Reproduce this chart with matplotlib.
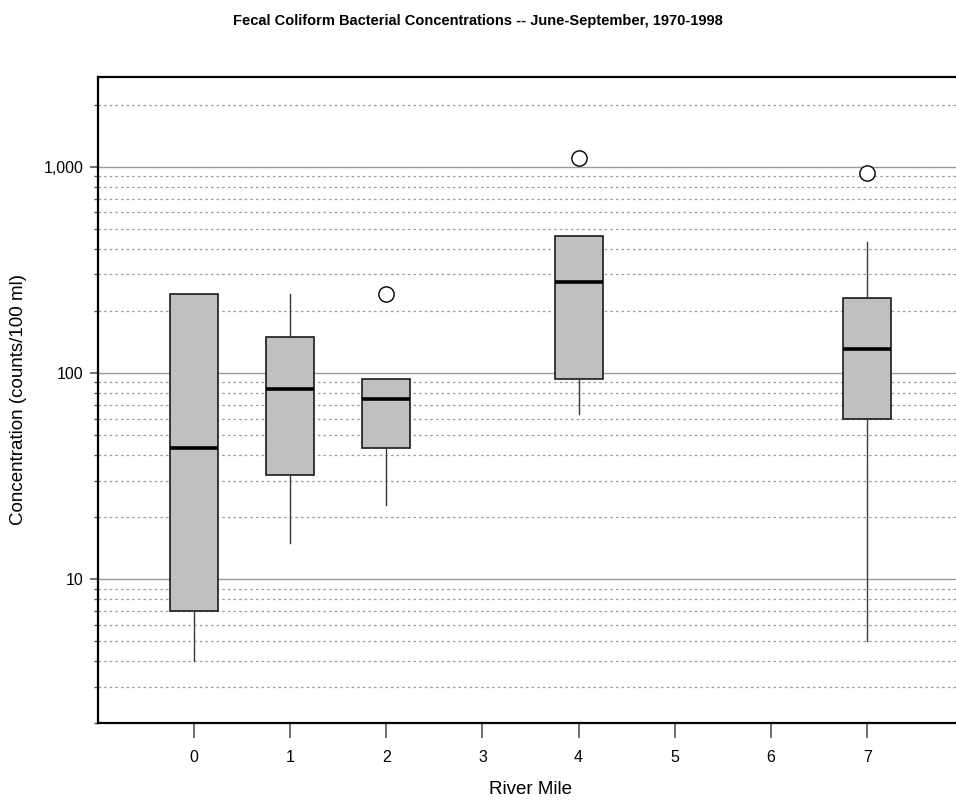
import matplotlib
matplotlib.use("Agg")
import matplotlib.pyplot as plt
from matplotlib.ticker import FixedLocator, NullFormatter, FuncFormatter
import numpy as np

plt.rcParams['font.family'] = ['Liberation Sans', 'DejaVu Sans']

river_mile = [0, 1, 2, 4, 7]
whisker_low = [4, 15, 23, 63.5, 5]
q1 = [7, 32, 43, 93, 60]
median = [43, 84, 75, 277, 130]
q3 = [240, 150, 93, 461, 230]
whisker_high = [240, 240, 93, 461, 432]
outliers = [[], [], [240], [1100], [930]]

stats = []
for i in range(len(river_mile)):
    stats.append(dict(whislo=whisker_low[i], q1=q1[i], med=median[i], q3=q3[i],
                      whishi=whisker_high[i], fliers=outliers[i]))

fig = plt.figure(figsize=(9.56, 8.02), dpi=100)
ax = fig.add_axes([0.1022, 0.0981, 0.9055, 0.8063])

ax.set_yscale('log')
ax.set_xlim(-1, 8)
ax.set_ylim(2, 2730)

ax.bxp(stats, positions=river_mile, widths=0.5, patch_artist=True, showcaps=False,
       boxprops=dict(facecolor='#c0c0c0', edgecolor='#1a1a1a', linewidth=1.2),
       medianprops=dict(color='black', linewidth=2.6),
       whiskerprops=dict(color='#3a3a3a', linewidth=1.0),
       flierprops=dict(marker='o', markerfacecolor='white', markeredgecolor='black',
                       markersize=11, markeredgewidth=1.0),
       zorder=3)

# gridlines
major = [10, 100, 1000]
minor = [m * d for d in [1, 10, 100, 1000] for m in range(2, 10) if 2 <= m * d <= 2730]
ax.yaxis.set_major_locator(FixedLocator(major))
ax.yaxis.set_minor_locator(FixedLocator(minor))
ax.yaxis.set_minor_formatter(NullFormatter())
ax.yaxis.set_major_formatter(FuncFormatter(lambda v, p: f"{int(v):,}"))
for v in major:
    ax.axhline(v, color='#9a9a9a', linewidth=1.0, zorder=1)
for v in minor:
    ax.axhline(v, color='#999999', linewidth=0.9, linestyle=(0, (2, 2.5)), zorder=1)

ax.set_xticks(range(0, 8))
ax.set_xticklabels([str(i) for i in range(0, 8)])
ax.tick_params(axis='x', direction='out', length=11, width=1.2, color='#555555',
               labelsize=11.5, pad=8)
ax.tick_params(axis='y', which='major', direction='out', length=6, width=1.2,
               color='#555555', labelsize=11.5, pad=4)
ax.tick_params(axis='y', which='minor', direction='out', length=3, width=1.0,
               color='#555555')

for s in ['left', 'top', 'bottom']:
    ax.spines[s].set_linewidth(1.6)
    ax.spines[s].set_color('black')
ax.spines['right'].set_visible(False)

ax.set_xlabel('River Mile', fontsize=13.5, labelpad=12)
ax.set_ylabel('Concentration (counts/100 ml)', fontsize=13.5, labelpad=12)

fig.text(0.5, 0.983, 'Fecal Coliform Bacterial Concentrations -- June-September, 1970-1998',
         ha='center', va='top', fontsize=10.5, fontweight='bold')

fig.savefig('out.png', dpi=100)
